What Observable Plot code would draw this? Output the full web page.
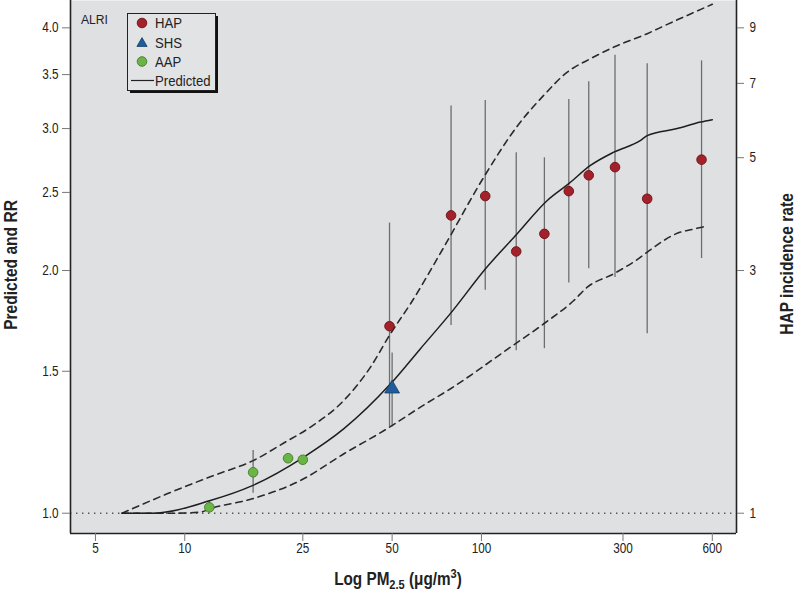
<!DOCTYPE html>
<html><head><meta charset="utf-8">
<script src="https://cdn.jsdelivr.net/npm/d3@7"></script>
<script src="https://cdn.jsdelivr.net/npm/@observablehq/plot@0.6"></script>
<style>
html,body{margin:0;padding:0;background:#fff;}
#chart svg{display:block;}
</style></head><body><div id="chart"></div>
<script>
const FONT = '"Liberation Sans", Arial, sans-serif';

// Axis ticks
const xTicks = [5, 10, 25, 50, 100, 300, 600];
const yTicks = [1.0, 1.5, 2.0, 2.5, 3.0, 3.5, 4.0];
const rateTicks = [1, 3, 5, 7, 9];
const xDomain = [4.12, 724];
const yDomain = [0.9437, 4.325];

// HAP (household air pollution)
const hapX  = [49, 79, 103, 131, 163, 197, 230, 282, 362, 552];
const hapY  = [1.706, 2.341, 2.474, 2.112, 2.221, 2.509, 2.625, 2.687, 2.455, 2.745];
const hapLo = [1.28, 1.71, 1.89, 1.59, 1.60, 1.93, 2.01, 1.96, 1.67, 2.07];
const hapHi = [2.29, 3.20, 3.25, 2.80, 2.76, 3.26, 3.43, 3.70, 3.61, 3.64];

// SHS (secondhand smoke)
const shsX = [50], shsY = [1.427], shsLo = [1.279], shsHi = [1.58];

// AAP (ambient air pollution)
const aapX  = [12.1, 17, 22.3, 25];
const aapY  = [1.017, 1.124, 1.170, 1.165];
const aapLo = [1.0, 1.059, null, null];
const aapHi = [1.035, 1.196, null, null];

// Predicted curve and its bounds
const predX = [6.15, 7.8, 12.2, 16.9, 25.2, 34.4, 49.4, 62.3, 79.3, 103.2, 132, 166.7, 197, 233, 279.5, 344, 362, 457, 548, 600];
const predY = [1.0, 1.0, 1.037, 1.082, 1.174, 1.273, 1.447, 1.60, 1.776, 2.01, 2.222, 2.443, 2.563, 2.70, 2.805, 2.90, 2.94, 3.0, 3.056, 3.077];
const upX = [6.15, 8.72, 12.53, 17.08, 21.57, 26.54, 34.37, 42.28, 49.38, 57.68, 74.7, 101.9, 132, 162.3, 194.7, 233.3, 279.5, 362.2, 423.2, 600];
const upY = [1.0, 1.057, 1.114, 1.163, 1.222, 1.279, 1.38, 1.518, 1.67, 1.819, 2.138, 2.612, 3.02, 3.30, 3.525, 3.663, 3.786, 3.934, 4.04, 4.278];
const loX = [6.15, 9.0, 11.3, 12.2, 16.9, 24.55, 34.4, 48.1, 62.3, 78.7, 125.3, 162.3, 204.8, 227.4, 279.5, 343.9, 362.2, 469, 507, 570];
const loY = [1.0, 1.0, 1.003, 1.013, 1.042, 1.098, 1.185, 1.273, 1.354, 1.427, 1.607, 1.718, 1.836, 1.907, 1.982, 2.078, 2.108, 2.232, 2.247, 2.269];

// right axis (HAP incidence rate) placed on the RR scale
const P = Math.log(4) / Math.log(9);

const zip = (xs, ys, extra = {}) => xs.map((x, i) => {
  const o = {x, y: ys[i]};
  for (const k in extra) o[k] = extra[k][i];
  return o;
});
const hap = zip(hapX, hapY, {lo: hapLo, hi: hapHi});
const shs = zip(shsX, shsY, {lo: shsLo, hi: shsHi});
const aap = zip(aapX, aapY, {lo: aapLo, hi: aapHi});
const pred = zip(predX, predY);
const upper = zip(upX, upY);
const lower = zip(loX, loY);

const RED = "#a3212a", RED_S = "#6e1016";
const GREEN = "#6cb446", GREEN_S = "#3f7f2a";
const BLUE = "#1f5c99", BLUE_S = "#123e6a";
const BAR = "#6e6e6e";

const plot = Plot.plot({
  width: 800, height: 594,
  marginLeft: 70, marginRight: 64, marginTop: 0, marginBottom: 61,
  style: {fontFamily: FONT, fontSize: "14px", background: "#fff", color: "#222", overflow: "visible"},
  x: {type: "log", domain: xDomain},
  y: {type: "log", domain: yDomain},
  marks: [
    Plot.frame({fill: "#dfe0e2", stroke: "none"}),
    Plot.ruleY([1], {stroke: "#555", strokeWidth: 1.4, strokeDasharray: "1.4,4.6"}),
    Plot.ruleX(hap.filter(d => d.lo != null), {x: "x", y1: "lo", y2: "hi", stroke: BAR, strokeWidth: 1.3}),
    Plot.ruleX(shs, {x: "x", y1: "lo", y2: "hi", stroke: BAR, strokeWidth: 1.3}),
    Plot.ruleX(aap.filter(d => d.lo != null), {x: "x", y1: "lo", y2: "hi", stroke: BAR, strokeWidth: 1.3}),
    Plot.line(upper, {x: "x", y: "y", stroke: "#2a2a2a", strokeWidth: 1.6, strokeDasharray: "6.5,5", curve: "monotone-x"}),
    Plot.line(lower, {x: "x", y: "y", stroke: "#2a2a2a", strokeWidth: 1.6, strokeDasharray: "6.5,5", curve: "monotone-x"}),
    Plot.line(pred, {x: "x", y: "y", stroke: "#1e1e1e", strokeWidth: 1.5, curve: "monotone-x"}),
    Plot.dot(aap, {x: "x", y: "y", r: 4.8, fill: GREEN, stroke: GREEN_S, strokeWidth: 0.9}),
    Plot.dot(hap, {x: "x", y: "y", r: 4.8, fill: RED, stroke: RED_S, strokeWidth: 0.9}),
    Plot.dot(shs, {x: "x", y: "y", r: 5.5, symbol: "triangle", fill: BLUE, stroke: BLUE_S, strokeWidth: 0.8}),
    Plot.ruleX([xDomain[0]], {stroke: "#222", strokeWidth: 1.6}),
    Plot.ruleX([xDomain[1]], {stroke: "#222", strokeWidth: 1.6}),
    Plot.ruleY([yDomain[0]], {stroke: "#222", strokeWidth: 1.6}),
    Plot.axisX({ticks: xTicks, tickFormat: () => "", tickSize: 8, label: null, stroke: "#777"}),
    Plot.text(xTicks, {x: d => d, text: d => String(d), frameAnchor: "bottom", dy: 19, fill: "#222"}),
    Plot.axisY({ticks: yTicks, tickFormat: d3.format(".1f"), tickSize: 8, tickPadding: 4, label: null, stroke: "#777"}),
    Plot.axisY({anchor: "right", ticks: rateTicks.map(r => Math.pow(r, P)),
      tickFormat: d => String(Math.round(Math.pow(d, 1 / P))), tickSize: 7, tickPadding: 6, label: null, stroke: "#777"})
  ]
});

document.getElementById("chart").appendChild(plot);

// condense text horizontally (reference uses a condensed face)
function condense(sel, k) {
  sel.each(function () {
    const t = d3.select(this);
    const x = +t.attr("x") || 0, y = +t.attr("y") || 0;
    const tr = t.attr("transform") || "";
    t.attr("transform", `${tr} translate(${x},${y}) scale(${k},1) translate(${-x},${-y})`);
  });
}
condense(d3.select(plot).selectAll("text"), 0.84);

// Titles, panel label and legend
const svg = d3.select(plot);
const g = svg.append("g").attr("font-family", FONT).attr("fill", "#222").attr("text-anchor", "start");

g.append("text").attr("transform", "translate(81,24) scale(0.9,1)").attr("font-size", 13.5).text("ALRI");

g.append("text")
  .attr("transform", "translate(16.5,265) rotate(-90) scale(0.82,1)")
  .attr("text-anchor", "middle").attr("font-size", 19).attr("font-weight", "bold")
  .text("Predicted and RR");
g.append("text")
  .attr("transform", "translate(793,264) rotate(-90) scale(0.82,1)")
  .attr("text-anchor", "middle").attr("font-size", 19).attr("font-weight", "bold")
  .text("HAP incidence rate");

const xt = g.append("text").attr("transform", "translate(398,585) scale(0.85,1)")
  .attr("text-anchor", "middle").attr("font-size", 18).attr("font-weight", "bold");
xt.append("tspan").text("Log PM");
xt.append("tspan").attr("font-size", 13).attr("dy", 4).text("2.5");
xt.append("tspan").attr("dy", -4).text(" (μg/m");
xt.append("tspan").attr("font-size", 13).attr("dy", -7).text("3");
xt.append("tspan").attr("dy", 7).text(")");

// legend
const L = g.append("g");
L.append("rect").attr("x", 130).attr("y", 16).attr("width", 88).attr("height", 77).attr("fill", "#111");
L.append("rect").attr("x", 127.5).attr("y", 13.5).attr("width", 88).attr("height", 77)
  .attr("fill", "#e2e3e5").attr("stroke", "#222").attr("stroke-width", 1);
const items = [
  {label: "HAP", y: 23, kind: "circle", fill: RED, stroke: RED_S},
  {label: "SHS", y: 43, kind: "triangle", fill: BLUE, stroke: BLUE_S},
  {label: "AAP", y: 61.5, kind: "circle", fill: GREEN, stroke: GREEN_S},
  {label: "Predicted", y: 80.5, kind: "line"}
];
for (const it of items) {
  if (it.kind === "circle") {
    L.append("circle").attr("cx", 142).attr("cy", it.y).attr("r", 4.8).attr("fill", it.fill).attr("stroke", it.stroke).attr("stroke-width", 0.9);
  } else if (it.kind === "triangle") {
    L.append("path").attr("d", d3.symbol(d3.symbolTriangle, 45)()).attr("transform", `translate(142,${it.y + 0.5})`).attr("fill", it.fill).attr("stroke", it.stroke).attr("stroke-width", 0.8);
  } else {
    L.append("line").attr("x1", 131).attr("x2", 154).attr("y1", it.y).attr("y2", it.y).attr("stroke", "#222").attr("stroke-width", 1.2);
  }
  L.append("text").attr("transform", `translate(155,${it.y + 5}) scale(0.94,1)`).attr("font-size", 14).text(it.label);
}
</script>
</body></html>
